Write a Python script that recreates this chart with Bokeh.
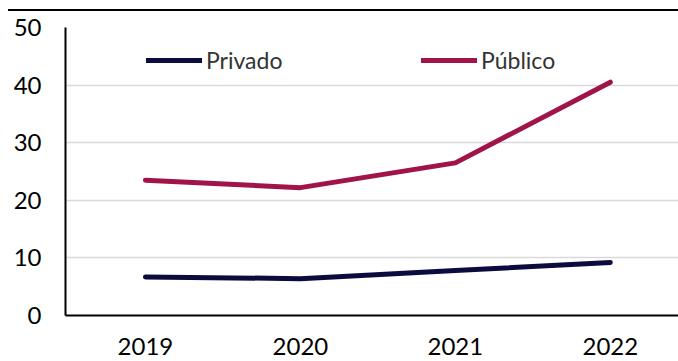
from bokeh.plotting import figure
from bokeh.models import Range1d, FixedTicker, Legend, LegendItem, Div, ColumnDataSource
from bokeh.layouts import column
from bokeh.embed import file_html
from bokeh.resources import INLINE

years = ["2019", "2020", "2021", "2022"]
privado = [6.7, 6.4, 7.8, 9.2]
publico = [23.5, 22.2, 26.5, 40.5]
y_ticks = [0, 10, 20, 30, 40, 50]

FONT = "Lato"
NAVY = "#0b0b3f"
CRIMSON = "#a0144a"

xs = list(range(len(years)))
src = ColumnDataSource(dict(x=xs, privado=privado, publico=publico))

p = figure(width=678, height=349, output_backend="svg", toolbar_location=None,
           x_range=Range1d(-0.516, 3.44), y_range=Range1d(0, 50),
           min_border_left=65, min_border_right=0, min_border_top=15, min_border_bottom=46)
p.outline_line_color = None
p.background_fill_color = "white"
p.border_fill_color = "white"

r1 = p.line("x", "privado", source=src, line_color=NAVY, line_width=5,
            line_cap="round", line_join="round")
r2 = p.line("x", "publico", source=src, line_color=CRIMSON, line_width=5,
            line_cap="round", line_join="round")

p.xgrid.visible = False
p.ygrid.grid_line_color = "#d9d9d9"
p.ygrid.grid_line_width = 1.5
p.yaxis.ticker = FixedTicker(ticks=y_ticks)
p.xaxis.ticker = FixedTicker(ticks=xs)
p.xaxis.major_label_overrides = {i: y for i, y in enumerate(years)}

for ax in (p.xaxis[0], p.yaxis[0]):
    ax.axis_line_color = "black"
    ax.axis_line_width = 2
    ax.major_tick_line_color = None
    ax.minor_tick_line_color = None
    ax.major_tick_out = 0
    ax.major_tick_in = 0
    ax.major_label_text_font = FONT
    ax.major_label_text_font_size = "24px"
    ax.major_label_text_color = "black"
p.yaxis.major_label_standoff = 24
p.xaxis.major_label_standoff = 22

for r, name, x in ((r1, "Privado", 81), (r2, "Público", 356)):
    leg = Legend(items=[LegendItem(label=name, renderers=[r])], location=(x, 241),
                 glyph_width=56, glyph_height=26, label_standoff=4, padding=0, margin=0,
                 border_line_color=None, background_fill_alpha=0,
                 label_text_font=FONT, label_text_font_size="23px",
                 label_text_color="#333333")
    p.add_layout(leg)

top = Div(text='<div style="position:absolute;left:8px;top:9px;width:670px;height:2px;background:#000"></div>',
          width=678, height=12, margin=0)

layout = column(top, p, spacing=0)
open("out.html", "w").write(file_html(layout, INLINE))
